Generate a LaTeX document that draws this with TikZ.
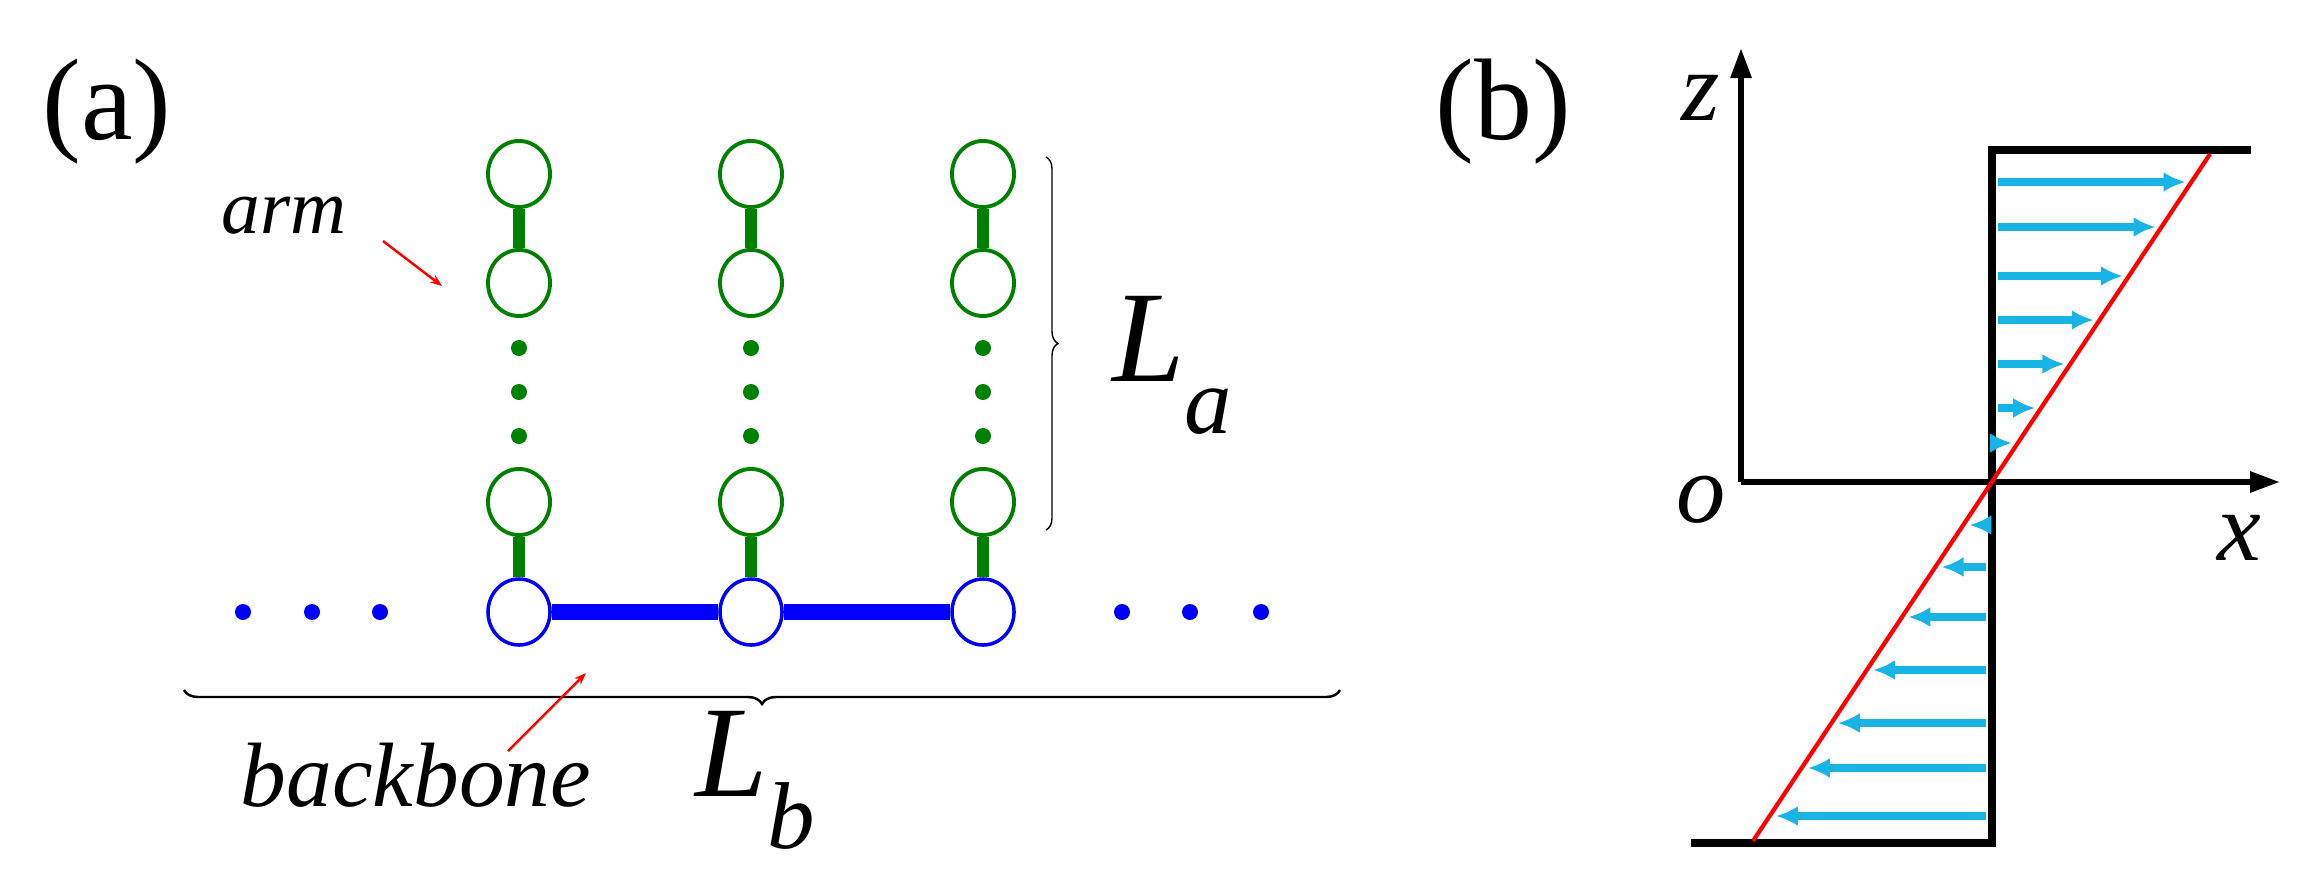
\documentclass[tikz,border=0pt]{standalone}
\usepackage{fontspec}
\setmainfont{Liberation Serif}
\usetikzlibrary{decorations.pathreplacing,arrows.meta,shapes.geometric}
\definecolor{gr}{RGB}{0,128,0}
\definecolor{bl}{RGB}{0,0,255}
\definecolor{cy}{RGB}{25,180,230}
\begin{document}
\begin{tikzpicture}[x=0.01cm,y=-0.01cm,
  arm/.style={ellipse,draw=gr,line width=1.1pt,minimum width=0.62cm,minimum height=0.66cm,inner sep=0pt,fill=white},
  bb/.style={ellipse,draw=bl,line width=1.0pt,minimum width=0.62cm,minimum height=0.66cm,inner sep=0pt,fill=white},
  gdot/.style={circle,fill=gr,minimum size=0.16cm,inner sep=0pt},
  bdot/.style={circle,fill=bl,minimum size=0.16cm,inner sep=0pt},
  stem/.style={gr,line width=3.3pt},
  bond/.style={bl,line width=4.3pt},
  vel/.style={cy,line width=2.2pt,-{Latex[length=0.22cm,width=0.2cm]}},
  lbl/.style={font=\fontsize{33}{36}\selectfont},
  Lsty/.style={font=\itshape\fontsize{37}{40}\selectfont},
  ptr/.style={red,line width=0.7pt,-{Stealth[length=0.12cm]}}]
\useasboundingbox (0,0) rectangle (2310,879);
% panel (a)
\node[lbl] (la) at (107,112) {(a)};
\foreach \i/\x in {1/519,2/751,3/983}{
  \node[arm] (t\i) at (\x,174) {};
  \node[arm] (s\i) at (\x,283) {};
  \node[gdot] (d\i a) at (\x,348) {};
  \node[gdot] (d\i b) at (\x,392) {};
  \node[gdot] (d\i c) at (\x,436) {};
  \node[arm] (u\i) at (\x,502) {};
  \node[bb] (b\i) at (\x,612) {};
  \draw[stem] (t\i) -- (s\i);
  \draw[stem] (u\i) -- (b\i);
}
\draw[bond] (b1) -- (b2);
\draw[bond] (b2) -- (b3);
\foreach \n/\x in {l1/243,l2/312,l3/380,r1/1122,r2/1190,r3/1261}
  \node[bdot] (\n) at (\x,612) {};
\draw[line width=0.4pt,decorate,decoration={brace,amplitude=0.12cm}] (1046,157) -- (1046,530);
\draw[line width=0.7pt,decorate,decoration={brace,amplitude=0.14cm}] (1340,690) -- (184,690);
\node[font=\itshape\fontsize{22}{24}\selectfont] (armt) at (284,216) {arm};
\node[font=\itshape\fontsize{26}{28}\selectfont] (bbt) at (416,775) {backbone};
\coordinate (armtip) at (442,286);
\coordinate (armtail) at (383,241);
\coordinate (bbtip) at (586,673);
\coordinate (bbtail) at (508,751);
\draw[ptr] (armtail) -- (armtip);
\draw[ptr] (bbtail) -- (bbtip);
\node[Lsty] (La) at (1172,365) {L\raisebox{-0.4em}{\fontsize{27}{30}\selectfont a}};
\node[Lsty] (Lb) at (755,780) {L\raisebox{-0.4em}{\fontsize{27}{30}\selectfont b}};
% panel (b)
\node[lbl] (lb) at (1503,112) {(b)};
\coordinate (O) at (1741,482);
\coordinate (ztop) at (1741,48);
\coordinate (xend) at (2280,482);
\draw[line width=1.7pt,-{Triangle[length=0.3cm,width=0.2cm]}] (O) -- (ztop);
\draw[line width=1.7pt,-{Triangle[length=0.3cm,width=0.2cm]}] (O) -- (xend);
\coordinate (s1) at (2251,150);
\coordinate (s2) at (1992,150);
\coordinate (s3) at (1992,843);
\coordinate (s4) at (1691,843);
\draw[line width=2.2pt] (s1) -- (s2) -- (s3) -- (s4);
\foreach \y in {182,227,276,320,364,408,443}{
  \pgfmathsetmacro{\xe}{1992+(482-\y)*0.665-6}
  \draw[vel] (1998,\y) -- (\xe,\y);
}
\foreach \y in {525,567,617,670,723,768,816}{
  \pgfmathsetmacro{\xe}{1992+(482-\y)*0.665+6}
  \draw[vel] (1986,\y) -- (\xe,\y);
}
\coordinate (r1) at (1753,841);
\coordinate (r2) at (2210,154);
\draw[red,line width=1.2pt] (r1) -- (r2);
\node[font=\itshape\fontsize{28}{30}\selectfont] (zl) at (1701,98) {z};
\node[font=\itshape\fontsize{28}{30}\selectfont] (ol) at (1701,500) {o};
\node[font=\itshape\fontsize{28}{30}\selectfont] (xl) at (2239,538) {x};
\end{tikzpicture}
\end{document}
